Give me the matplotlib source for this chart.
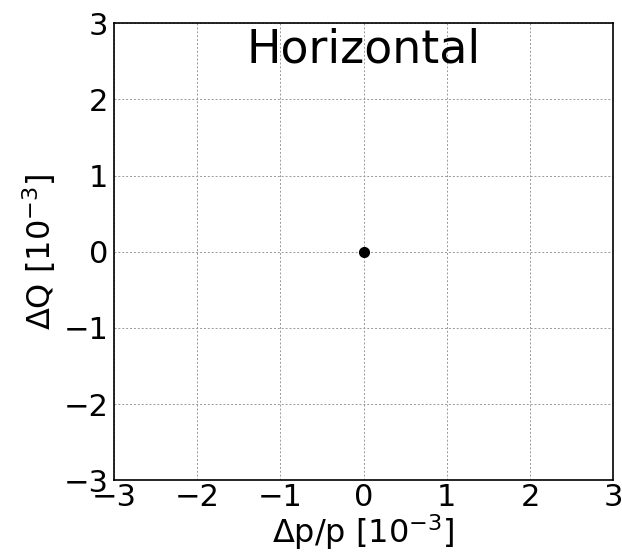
import matplotlib
matplotlib.use("Agg")
import matplotlib.pyplot as plt

dp = [0.0]
dq = [0.0]
ticks = [-3, -2, -1, 0, 1, 2, 3]
title_text = "Horizontal"

fig = plt.figure(figsize=(6.22, 5.52), dpi=100)
ax = fig.add_axes([0.183, 0.130, 0.803, 0.828])

ax.plot(dp, dq, "o", color="black", markersize=7)

ax.set_xlim(-3, 3)
ax.set_ylim(-3, 3)
ax.set_xticks(ticks)
ax.set_yticks(ticks)
ax.tick_params(labelsize=22, length=0)
ax.tick_params(axis="x", pad=2)
ax.tick_params(axis="y", pad=4)
ax.grid(True, linestyle=(0, (2, 2)), color="#999999", linewidth=0.7)
for sp in ax.spines.values():
    sp.set_linewidth(1.2)

ax.text(0, 2.65, title_text, fontsize=33, ha="center", va="center")
ax.set_xlabel(r"$\Delta$p/p [$10^{-3}$]", fontsize=23, labelpad=0)
ax.set_ylabel(r"$\Delta$Q [$10^{-3}$]", fontsize=23, labelpad=4)

fig.savefig("out.png", dpi=100)
